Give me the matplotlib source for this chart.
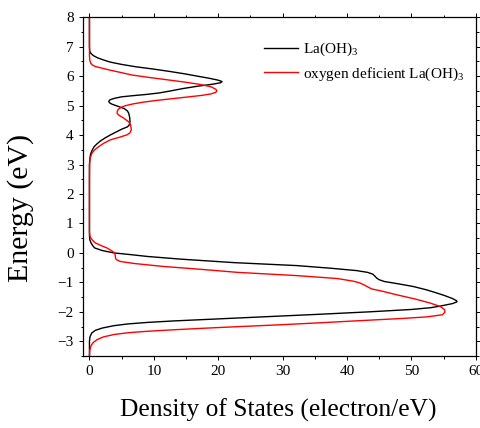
import matplotlib
matplotlib.use("Agg")
import matplotlib.pyplot as plt
from matplotlib.ticker import MultipleLocator

plt.rcParams["font.family"] = ["Liberation Serif", "DejaVu Serif"]
plt.rcParams["mathtext.fontset"] = "custom"
plt.rcParams["mathtext.rm"] = "Liberation Serif"
plt.rcParams["mathtext.it"] = "Liberation Serif:italic"

# La(OH)3 : energy (eV) and density of states
pure_energy = [
    8.0, 7.0, 6.85, 6.78, 6.70, 6.62, 6.55, 6.48, 6.40, 6.32, 6.24, 6.16,
    6.08, 6.00, 5.93, 5.87, 5.82, 5.78, 5.73, 5.66, 5.58, 5.50, 5.43, 5.38,
    5.34, 5.30, 5.25, 5.20, 5.15, 5.10, 5.05, 4.98, 4.90, 4.82, 4.74, 4.60,
    4.45, 4.35, 4.28, 4.20, 4.10, 4.00, 3.90, 3.80, 3.70, 3.60, 3.48, 3.36,
    3.20, 3.00, 2.50, 0.60, 0.45, 0.34, 0.25, 0.17, 0.08, 0.0, -0.06,
    -0.12, -0.21, -0.28, -0.33, -0.43, -0.52, -0.60, -0.66, -0.72, -0.78,
    -0.85, -0.91, -0.97, -1.05, -1.14, -1.25, -1.35, -1.45, -1.55, -1.62,
    -1.66, -1.72, -1.80, -1.86, -1.92, -2.00, -2.08, -2.16, -2.24, -2.31,
    -2.36, -2.41, -2.47, -2.55, -2.63, -2.72, -2.85, -3.0, -3.5,
]
pure_dos = [
    0.0, 0.0, 0.05, 0.2, 0.6, 1.3, 2.2, 3.2, 5.0, 7.2, 10.0, 12.5,
    14.8, 16.8, 18.6, 19.9, 20.6, 20.4, 19.2, 16.8, 14.5, 12.6, 10.8, 8.8,
    6.8, 5.0, 3.9, 3.2, 3.0, 3.1, 3.5, 4.4, 5.4, 5.9, 6.1, 6.25,
    6.3, 6.2, 5.9, 5.0, 4.1, 3.2, 2.4, 1.7, 1.15, 0.7, 0.4, 0.18,
    0.06, 0.0, 0.0, 0.0, 0.05, 0.25, 0.5, 0.8, 2.0, 3.8, 6.5,
    9.0, 14.1, 19.0, 22.5, 32.2, 37.5, 41.5, 43.2, 44.0, 44.3,
    44.6, 45.0, 45.8, 48.0, 50.3, 52.3, 53.8, 55.2, 56.4, 57.0,
    57.1, 56.4, 54.6, 53.0, 50.0, 43.5, 36.0, 28.0, 20.0, 13.0,
    9.0, 6.0, 3.8, 2.0, 0.9, 0.35, 0.08, 0.0, 0.0,
]

# oxygen deficient La(OH)3
defect_energy = [
    8.0, 6.7, 6.55, 6.44, 6.38, 6.33, 6.27, 6.20, 6.12, 6.04, 5.96, 5.88,
    5.80, 5.72, 5.64, 5.56, 5.50, 5.45, 5.40, 5.35, 5.30, 5.24, 5.18, 5.12,
    5.06, 5.00, 4.94, 4.88, 4.80, 4.74, 4.67, 4.58, 4.45, 4.35, 4.18, 4.08,
    4.01, 3.93, 3.84, 3.72, 3.61, 3.50, 3.39, 3.22, 3.0, 2.5, 0.7, 0.55,
    0.45, 0.34, 0.25, 0.17, 0.08, 0.0, -0.08, -0.18, -0.23, -0.29, -0.36,
    -0.46, -0.56, -0.66, -0.77, -0.87, -0.96, -1.02, -1.08, -1.15, -1.22,
    -1.30, -1.42, -1.56, -1.70, -1.82, -1.93, -2.02, -2.10, -2.17, -2.22,
    -2.30, -2.37, -2.44, -2.50, -2.56, -2.61, -2.66, -2.71, -2.77, -2.85,
    -2.94, -3.05, -3.15, -3.30, -3.5,
]
defect_dos = [
    0.0, 0.0, 0.05, 0.2, 0.45, 0.9, 2.0, 3.3, 5.0, 6.6, 9.2, 12.0,
    14.8, 17.2, 18.9, 19.6, 19.8, 19.6, 18.9, 17.5, 15.5, 13.0, 10.5, 8.4,
    6.8, 5.6, 4.9, 4.5, 4.3, 4.3, 4.6, 5.3, 6.1, 6.4, 6.5, 6.3,
    5.85, 4.7, 3.26, 2.2, 1.45, 0.8, 0.4, 0.1, 0.02, 0.0, 0.0, 0.1,
    0.4, 0.9, 1.8, 2.7, 3.4, 3.9, 4.0, 4.05, 4.2, 4.8, 7.0,
    11.5, 17.5, 23.0, 32.2, 38.5, 41.0, 42.0, 42.6, 43.2, 43.8,
    45.5, 47.7, 50.5, 52.9, 54.5, 55.2, 55.2, 54.8, 52.5, 49.0,
    42.0, 36.0, 29.6, 23.4, 17.5, 13.0, 9.0, 6.0, 3.8, 2.2,
    1.2, 0.55, 0.25, 0.06, 0.0,
]

fig = plt.figure(figsize=(4.81, 4.28), dpi=100)
ax = fig.add_axes([0.1726, 0.1682, 0.8164, 0.7914])

ax.plot(pure_dos, pure_energy, color="black", linewidth=1.0, label="La(OH)$_3$")
ax.plot(defect_dos, defect_energy, color="red", linewidth=1.0,
        label="oxygen deficient La(OH)$_3$")

ax.set_xlim(-1, 60)
ax.set_ylim(-3.5, 8)
ax.xaxis.set_major_locator(MultipleLocator(10))
ax.xaxis.set_minor_locator(MultipleLocator(5))
ax.yaxis.set_major_locator(MultipleLocator(1))
ax.yaxis.set_minor_locator(MultipleLocator(0.5))
ax.tick_params(which="both", direction="out", top=True, right=True,
               labelsize=11, width=0.7)
ax.tick_params(which="major", length=3.2)
ax.tick_params(which="minor", length=1.8)
for spine in ax.spines.values():
    spine.set_linewidth(0.9)

ax.set_xlabel("Density of States (electron/eV)", fontsize=18.4)
ax.set_ylabel("Energy (eV)", fontsize=21.5)
ax.xaxis.set_label_coords(0.498, -0.125)
ax.yaxis.set_label_coords(-0.125, 0.438)

ax.legend(loc="upper left", bbox_to_anchor=(0.461, 0.93), frameon=False,
          fontsize=11, handlelength=2.2, handletextpad=0.35,
          labelspacing=0.45, borderpad=0, borderaxespad=0)

fig.savefig("out.png", dpi=100)
